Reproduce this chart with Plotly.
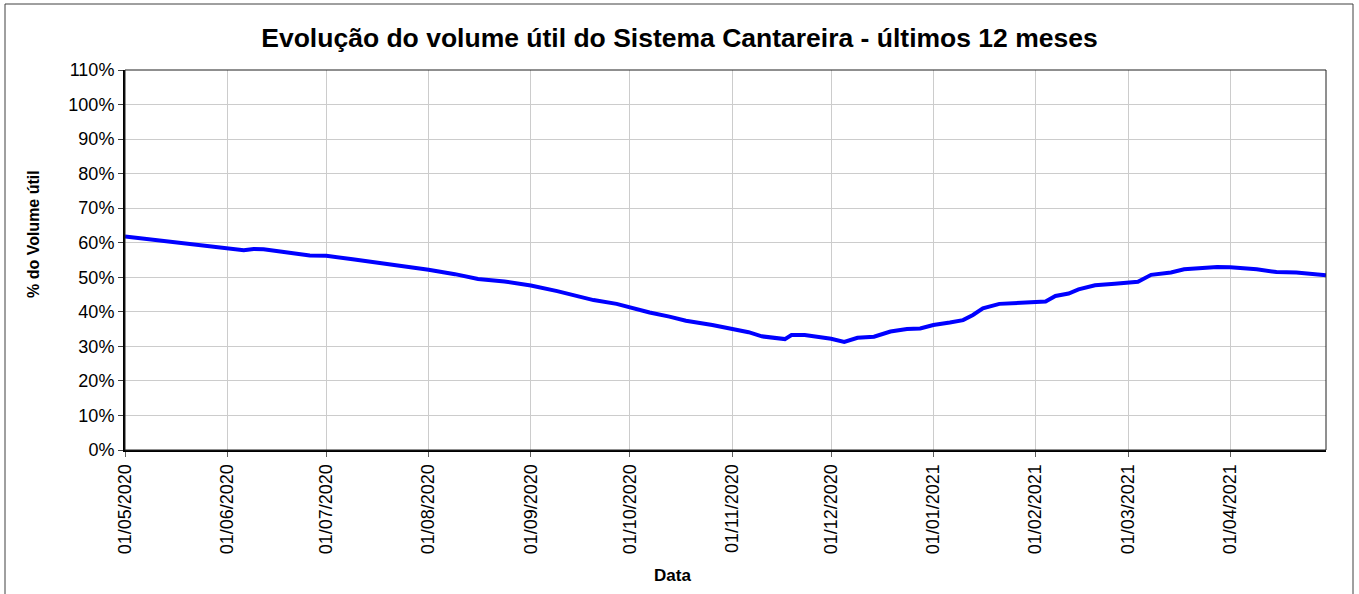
import plotly.graph_objects as go

# Data (% of useful volume)
dates = [
    "2020-05-01", "2020-05-20", "2020-06-01", "2020-06-06", "2020-06-09", "2020-06-12",
    "2020-06-26", "2020-07-01", "2020-07-09", "2020-07-19", "2020-08-01", "2020-08-09",
    "2020-08-16", "2020-08-24", "2020-09-01", "2020-09-09", "2020-09-20", "2020-09-27",
    "2020-10-01", "2020-10-07", "2020-10-13", "2020-10-18", "2020-10-26", "2020-11-01",
    "2020-11-06", "2020-11-10", "2020-11-17", "2020-11-19", "2020-11-23", "2020-12-01",
    "2020-12-05", "2020-12-09", "2020-12-14", "2020-12-19", "2020-12-24", "2020-12-28",
    "2021-01-01", "2021-01-06", "2021-01-10", "2021-01-13", "2021-01-16", "2021-01-21",
    "2021-01-29", "2021-02-04", "2021-02-07", "2021-02-11", "2021-02-14", "2021-02-19",
    "2021-02-25", "2021-03-01", "2021-03-04", "2021-03-08", "2021-03-14", "2021-03-18",
    "2021-03-24", "2021-03-28", "2021-04-01", "2021-04-09", "2021-04-15", "2021-04-21",
    "2021-04-30",
]
volume = [
    61.8, 59.8, 58.4, 57.8, 58.2, 58.1,
    56.3, 56.2, 55.2, 54.0, 52.2, 50.9,
    49.5, 48.8, 47.6, 46.0, 43.4, 42.3,
    41.2, 39.8, 38.6, 37.4, 36.2, 35.1,
    34.1, 32.9, 32.1, 33.3, 33.3, 32.2,
    31.3, 32.5, 32.8, 34.3, 35.0, 35.2,
    36.2, 36.9, 37.6, 39.1, 41.0, 42.3,
    42.7, 43.0, 44.6, 45.3, 46.5, 47.7,
    48.1, 48.6, 48.7, 50.7, 51.4, 52.3,
    52.6, 53.0, 52.9, 52.3, 51.5, 51.4,
    50.6,
]

title_text = "Evolução do volume útil do Sistema Cantareira - últimos 12 meses"
x_title = "Data"
y_title = "% do Volume útil"

W, H = 1359, 594
L, R, T, B = 125, 1326, 70, 450
pw, ph = R - L, B - T

def px(x):
    return (x - L) / pw

def py(y):
    return (B - y) / ph

font = "Liberation Sans, Arial, sans-serif"

fig = go.Figure()
fig.add_trace(go.Scatter(
    x=dates, y=volume, mode="lines",
    line=dict(color="#0000ff", width=4),
    hoverinfo="x+y", showlegend=False,
))

fig.update_layout(
    width=W, height=H,
    margin=dict(l=L, r=W - R, t=T, b=H - B),
    paper_bgcolor="white", plot_bgcolor="white",
    font=dict(family=font, color="black"),
    title=dict(text="<b>" + title_text + "</b>", x=0.5, xref="container",
               y=1 - 38 / H, yref="container", yanchor="middle", xanchor="center",
               font=dict(size=26.5, family=font, color="black")),
    xaxis=dict(
        type="date", range=["2020-05-01", "2021-04-30"],
        tick0="2020-05-01", dtick="M1", tickformat="%d/%m/%Y",
        tickangle=-90, tickfont=dict(size=18, family=font, color="black"),
        showgrid=True, gridcolor="#cccccc", gridwidth=1,
        ticks="outside", ticklen=5, tickcolor="#606060",
        showline=True, linecolor="black", linewidth=2, zeroline=False,
    ),
    yaxis=dict(
        range=[0, 110], dtick=10, tick0=0, ticksuffix="%",
        tickfont=dict(size=18, family=font, color="black"),
        showgrid=True, gridcolor="#cccccc", gridwidth=1,
        ticks="outside", ticklen=5, tickcolor="#404040",
        showline=True, linecolor="black", linewidth=2, zeroline=False,
    ),
    shapes=[
        dict(type="rect", xref="paper", yref="paper", x0=0, x1=1, y0=0, y1=1,
             line=dict(color="#202020", width=1), fillcolor="rgba(0,0,0,0)", layer="above"),
        dict(type="rect", xref="paper", yref="paper",
             x0=px(5), x1=px(1353), y0=py(4), y1=py(620),
             line=dict(color="#404040", width=1), fillcolor="rgba(0,0,0,0)", layer="below"),
    ],
    annotations=[
        dict(text="<b>" + x_title + "</b>", xref="paper", yref="paper",
             x=px(672), y=py(575), xanchor="center", yanchor="middle",
             showarrow=False, font=dict(size=17, family=font, color="black")),
        dict(text="<b>" + y_title + "</b>", xref="paper", yref="paper",
             x=px(33), y=py(234), xanchor="center", yanchor="middle", textangle=-90,
             showarrow=False, font=dict(size=16, family=font, color="black")),
    ],
)

fig.write_html("out.html", config={"displayModeBar": False},
               post_script="document.body.style.margin='0';")
